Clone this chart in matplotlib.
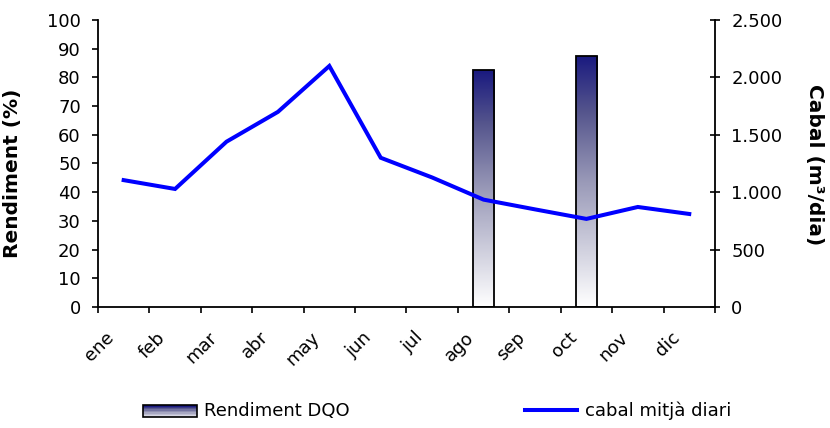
import numpy as np
import matplotlib
matplotlib.use("Agg")
import matplotlib.pyplot as plt
from matplotlib.colors import LinearSegmentedColormap
from matplotlib.patches import Rectangle
from matplotlib.lines import Line2D
from matplotlib.legend_handler import HandlerBase
from matplotlib.ticker import FuncFormatter, FixedLocator

months = ["ene", "feb", "mar", "abr", "may", "jun", "jul", "ago", "sep", "oct", "nov", "dic"]
rendiment = [np.nan, np.nan, np.nan, np.nan, np.nan, np.nan, np.nan, 82.6, np.nan, 87.6, np.nan, np.nan]
cabal = [1105, 1028, 1440, 1700, 2100, 1300, 1128, 935, 850, 767, 871, 810]

grad = LinearSegmentedColormap.from_list(
    "grad", [(0, "white"), (0.5, (0.60, 0.60, 0.72)), (0.78, (0.33, 0.33, 0.55)), (1, (0.10, 0.10, 0.50))])

plt.rcParams["font.family"] = "DejaVu Sans"
plt.rcParams["font.size"] = 13

fig = plt.figure(figsize=(8.3, 4.28), dpi=100)
ax = fig.add_axes([0.118, 0.283, 0.7434, 0.670])
ax2 = ax.twinx()

x = np.arange(len(months))

# bars with vertical gradient
for xi, v in zip(x, rendiment):
    if np.isnan(v):
        continue
    b = ax.bar(xi, v, width=0.42, facecolor="none", edgecolor="black", lw=1.3, zorder=3)[0]
    im = ax.imshow(np.linspace(0, 1, 256).reshape(-1, 1), cmap=grad, origin="lower",
                   extent=[xi - 0.21, xi + 0.21, 0, v], aspect="auto", zorder=2)
    im.set_clip_path(b)

ax2.plot(x, cabal, color="#0000ff", lw=2.9, solid_joinstyle="miter")

ax.set_xlim(-0.5, 11.5)
ax.set_ylim(0, 100)
ax2.set_ylim(0, 2500)
ax.set_yticks(np.arange(0, 101, 10))
ax2.set_yticks(np.arange(0, 2501, 500))
ax2.yaxis.set_major_formatter(FuncFormatter(lambda v, p: f"{int(v):,}".replace(",", ".")))

# ticks between categories, labels (slightly left of centre, like excel)
ax.xaxis.set_major_locator(FixedLocator(np.arange(-0.5, 12, 1)))
ax.xaxis.set_major_formatter(FuncFormatter(lambda v, p: ""))
ax.xaxis.set_minor_locator(FixedLocator(x - 0.24))
ax.set_xticklabels(months, minor=True, rotation=45, ha="right", va="center",
                   rotation_mode="anchor")
ax.tick_params(axis="x", which="major", direction="out", length=4.5, width=1.2)
ax.tick_params(axis="x", which="minor", length=0, pad=20)
ax.tick_params(axis="y", direction="out", length=4.3, width=1.2, pad=8)
ax2.tick_params(axis="y", direction="inout", length=7.5, width=1.2, pad=8)

for a in (ax, ax2):
    a.spines["top"].set_visible(False)
    for s in a.spines.values():
        s.set_linewidth(1.3)
ax.spines["right"].set_visible(False)
ax2.spines["left"].set_visible(False)
ax2.spines["bottom"].set_visible(False)

ax.set_ylabel("Rendiment (%)", fontsize=14.5, fontweight="bold")
ax.yaxis.set_label_coords(-0.123, 0.467)
ax2.set_ylabel("Cabal (m³/dia)", fontsize=14.5, fontweight="bold", rotation=270, va="center")
ax2.yaxis.set_label_coords(1.162, 0.495)


class GradHandler(HandlerBase):
    def create_artists(self, legend, orig, xd, yd, w, h, fs, trans):
        arts = []
        n = 8
        for i in range(n):
            c = grad(1 - i / (n - 1) * 0.8)
            arts.append(Rectangle((xd, yd + h - (i + 1) * h / n), w, h / n,
                                  facecolor=c, edgecolor="none", transform=trans))
        arts.append(Rectangle((xd, yd), w, h, facecolor="none", edgecolor="black",
                              lw=1.2, transform=trans))
        return arts


h1 = Rectangle((0, 0), 1, 1)
fig.legend([h1], ["Rendiment DQO"], handler_map={Rectangle: GradHandler()},
           loc="center left", bbox_to_anchor=(0.1723, 0.0397), frameon=False,
           borderpad=0, borderaxespad=0, handlelength=3.0, handleheight=0.6,
           handletextpad=0.4, fontsize=13)
h2 = Line2D([], [], color="#0000ff", lw=2.9)
fig.legend([h2], ["cabal mitjà diari"], loc="center left",
           bbox_to_anchor=(0.6325, 0.0397), frameon=False, borderpad=0,
           borderaxespad=0, handlelength=2.9, handletextpad=0.4, fontsize=13)

fig.savefig("out.png", dpi=100)
